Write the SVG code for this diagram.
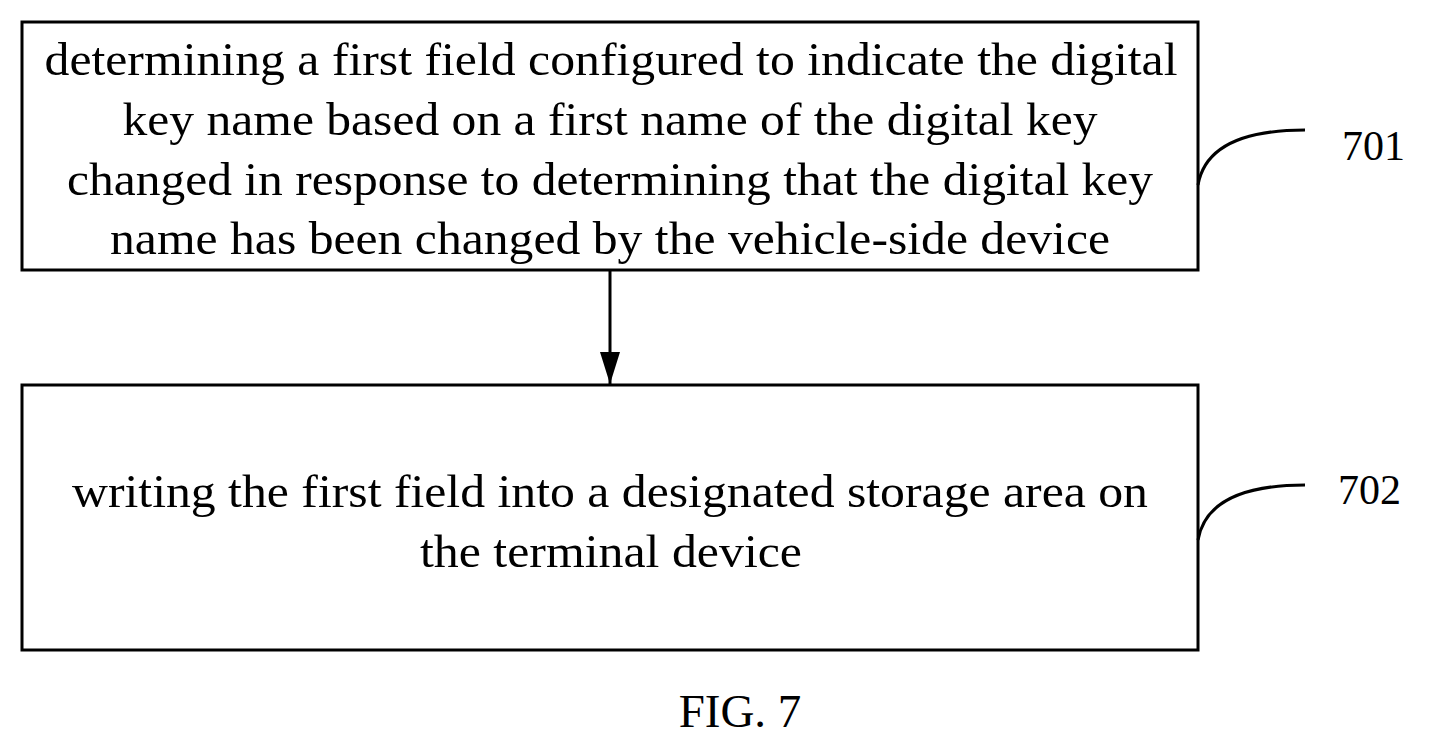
<svg xmlns="http://www.w3.org/2000/svg" width="1429" height="748" viewBox="0 0 1429 748">
<style>
.box{fill:#fff;stroke:#000;stroke-width:3}
.t{font-family:"Liberation Serif",serif;font-size:47px;text-anchor:middle;fill:#000}
.l{font-family:"Liberation Serif",serif;font-size:42px;fill:#000}
.c{fill:none;stroke:#000;stroke-width:3}
</style>
<defs><marker id="a" markerWidth="32" markerHeight="20" refX="32" refY="10" orient="auto" markerUnits="userSpaceOnUse" viewBox="0 0 32 20"><path d="M0,0 L32,10 L0,20 z" fill="#000"/></marker></defs>
<rect width="1429" height="748" fill="#fff"/>
<g id="n701">
<rect class="box" x="22" y="22" width="1176" height="248"/>
<text class="t" x="611" y="75" textLength="1133" lengthAdjust="spacingAndGlyphs">determining a first field configured to indicate the digital</text>
<text class="t" x="610" y="135" textLength="975" lengthAdjust="spacingAndGlyphs">key name based on a first name of the digital key</text>
<text class="t" x="610" y="195" textLength="1086" lengthAdjust="spacingAndGlyphs">changed in response to determining that the digital key</text>
<text class="t" x="610" y="254" textLength="1000" lengthAdjust="spacingAndGlyphs">name has been changed by the vehicle-side device</text>
</g>
<g id="n702">
<rect class="box" x="22" y="385" width="1176" height="265"/>
<text class="t" x="610" y="507" textLength="1076" lengthAdjust="spacingAndGlyphs">writing the first field into a designated storage area on</text>
<text class="t" x="611" y="567" textLength="382" lengthAdjust="spacingAndGlyphs">the terminal device</text>
</g>
<g id="connectors">
<line class="c" x1="610" y1="270" x2="610" y2="384" marker-end="url(#a)"/>
<path class="c" d="M1198,185 C1205,145 1245,130 1305,130"/>
<path class="c" d="M1198,540 C1205,500 1245,485 1305,485"/>
</g>
<text class="l" x="1342" y="160">701</text>
<text class="l" x="1338" y="504">702</text>
<text class="t" x="740" y="727">FIG. 7</text>
</svg>
